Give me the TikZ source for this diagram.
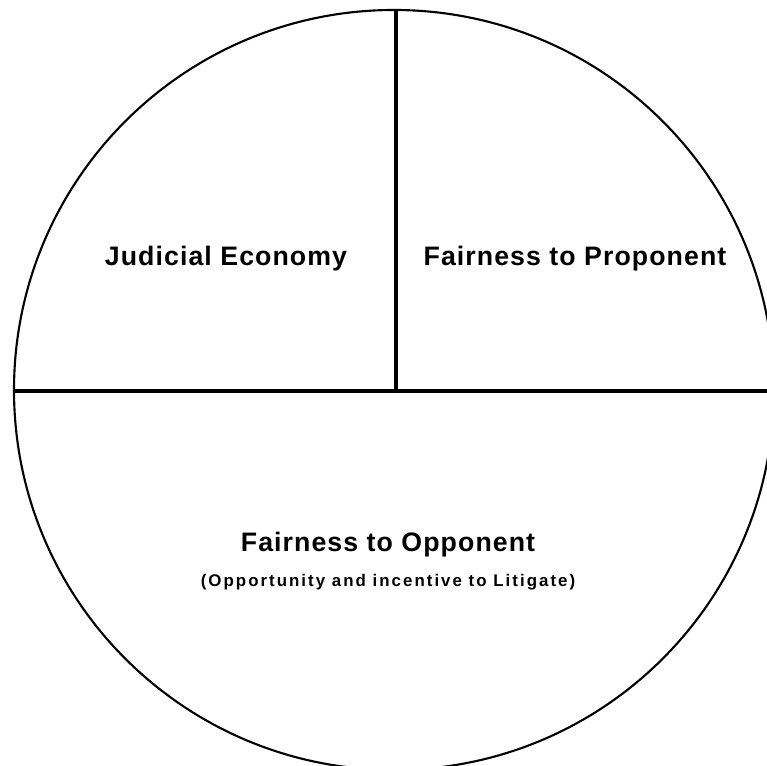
\documentclass[tikz,border=0pt]{standalone}
\usepackage{fontspec}
\setmainfont{Liberation Sans}
\usepackage{tikz}
\usetikzlibrary{positioning}

\tikzset{
  label/.style={font=\fontsize{7.6}{9}\bfseries\addfontfeature{LetterSpace=4}, inner sep=0pt},
  sublabel/.style={font=\fontsize{4.8}{6}\bfseries\addfontfeature{LetterSpace=12}, inner sep=0pt},
  divider/.style={line width=1.1pt}
}

\begin{document}
\begin{tikzpicture}
\useasboundingbox (0,0) rectangle (7.67,7.66);
\clip (0,0) rectangle (7.67,7.66);
\coordinate (O) at (3.96,3.75);
\draw[line width=0.6pt] (3.94,3.76) circle (3.80);
\coordinate (L) at (0.13,3.75);
\coordinate (R) at (7.67,3.75);
\coordinate (T) at (3.96,7.56);
\draw[divider] (L) -- (R);
\draw[divider] (T) -- (O);
\node[label] at (2.26,5.07) (je) {Judicial Economy};
\node[label] at (5.75,5.07) (fp) {Fairness to Proponent};
\node[label] at (3.88,2.21) (fo) {Fairness to Opponent};
\node[sublabel] (sub) [below=0.15 of fo] {(Opportunity and incentive to Litigate)};
\end{tikzpicture}
\end{document}
